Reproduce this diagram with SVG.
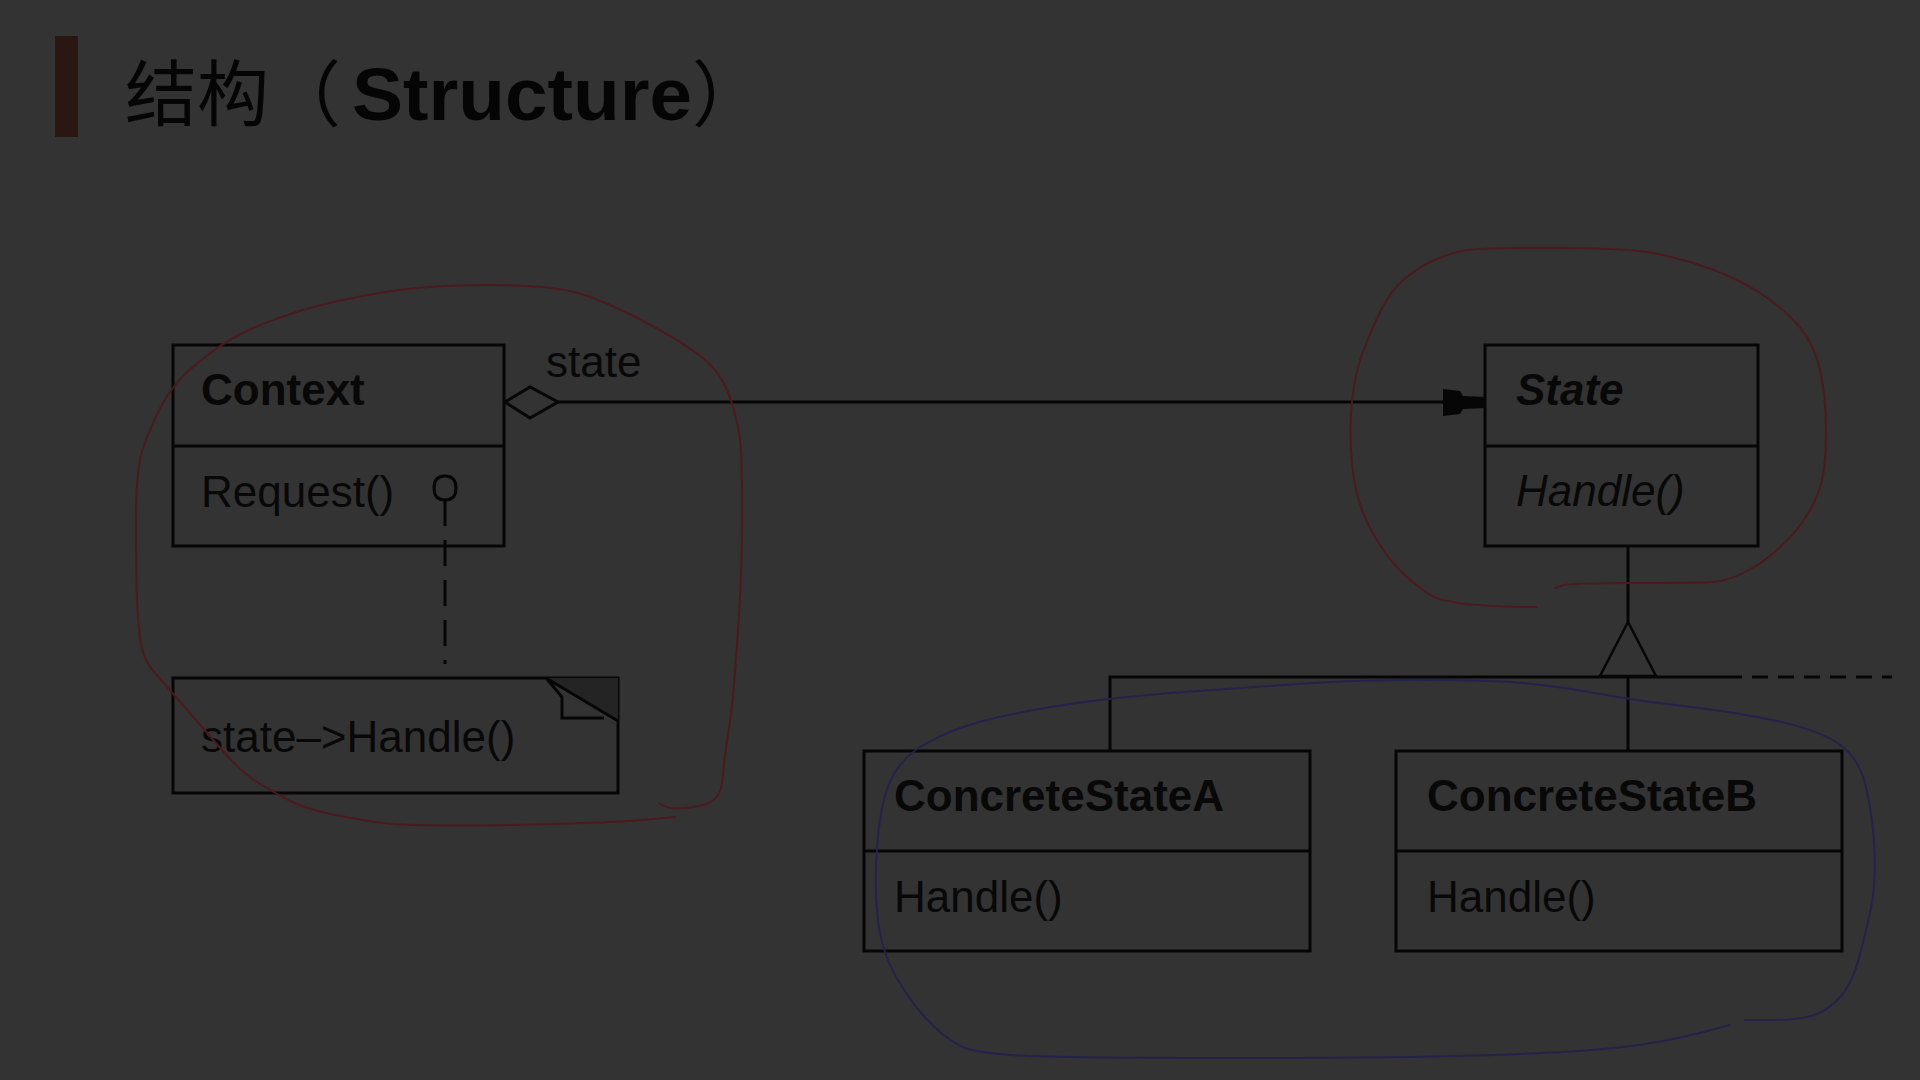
<svg xmlns="http://www.w3.org/2000/svg" width="1920" height="1080" viewBox="0 0 1920 1080">
<style>
.box{fill:none;stroke:#060606;stroke-width:3}
.ln{fill:none;stroke:#060606;stroke-width:3}
.t{font-family:"Liberation Sans",Arial,sans-serif;font-size:44px;fill:#080808}
.b{font-weight:bold}
.i{font-style:italic}
.red{fill:none;stroke:#4a1a1e;stroke-width:2;stroke-linecap:round;stroke-linejoin:round}
.blue{fill:none;stroke:#24224a;stroke-width:2;stroke-linecap:round;stroke-linejoin:round}
</style>
<rect width="1920" height="1080" fill="#333333"/>
<g id="title">
<rect x="55" y="36" width="23" height="101" fill="#2a1712"/>
<text y="120" font-family="'Liberation Sans','Noto Sans CJK SC',sans-serif" font-size="72" fill="#050505"><tspan x="125" font-family="'Noto Sans CJK SC',sans-serif">结构（</tspan><tspan x="352" font-weight="bold" font-size="75" textLength="340" lengthAdjust="spacingAndGlyphs">Structure</tspan><tspan x="692" font-family="'Noto Sans CJK SC',sans-serif">）</tspan></text>
</g>
<g id="connectors">
<path class="ln" d="M558,402 H1446"/>
<polygon points="505,402 530,387 558,402 530,418" fill="none" stroke="#060606" stroke-width="3"/>
<polygon points="1443,389 1460,391 1463,396 1485,397 1485,408 1463,409 1460,414 1443,416" fill="#060606"/>
<text class="t" x="546" y="377">state</text>
<path class="ln" d="M445,500 V664" stroke-dasharray="26 14"/>
<path class="ln" d="M1628,546 V622"/>
<polygon points="1628,622 1600,676 1656,676" fill="none" stroke="#060606" stroke-width="2.5"/>
<path class="ln" d="M1110,751 V677 H1742 M1628,677 V751"/>
<path class="ln" d="M1752,677 H1892" stroke-dasharray="16 10"/>
</g>
<g id="context">
<rect class="box" x="173" y="345" width="331" height="201"/>
<path class="ln" d="M173,446 H504"/>
<text class="t b" x="201" y="405">Context</text>
<text class="t" x="201" y="507">Request()</text>
<path d="M445,476 C453,476 456,481 456,488 C456,496 452,500 445,500 C438,500 434,496 434,488 C434,481 437,476 445,476 Z" fill="none" stroke="#060606" stroke-width="3"/>
</g>
<g id="note">
<rect class="box" x="173" y="678" width="445" height="115"/>
<polygon points="546,678 618,678 618,721" fill="#242424"/>
<path d="M546,678 L618,721 M547,679 L562,697 V718 H604" fill="none" stroke="#060606" stroke-width="3"/>
<text class="t" x="201" y="752">state–&gt;Handle()</text>
</g>
<g id="state">
<rect class="box" x="1485" y="345" width="273" height="201"/>
<path class="ln" d="M1485,446 H1758"/>
<text class="t b i" x="1516" y="405">State</text>
<text class="t i" x="1516" y="506">Handle()</text>
</g>
<g id="concreteStateA">
<rect class="box" x="864" y="751" width="446" height="200"/>
<path class="ln" d="M864,851 H1310"/>
<text class="t b" x="894" y="811">ConcreteStateA</text>
<text class="t" x="894" y="912">Handle()</text>
</g>
<g id="concreteStateB">
<rect class="box" x="1396" y="751" width="446" height="200"/>
<path class="ln" d="M1396,851 H1842"/>
<text class="t b" x="1427" y="811">ConcreteStateB</text>
<text class="t" x="1427" y="912">Handle()</text>
</g>
<g id="annotations">
<path class="red" d="M659,803 Q667,809 679,808.5 Q691,808 701.5,805.5 Q712,803 717,796.5 Q722,790 723,775 Q724,760 728,735 Q732,710 734,685 Q736,660 739,615 Q742,570 742,520 Q742,470 741,450 Q740,430 732,403.5 Q724,377 707.5,362 Q691,347 650.5,325 Q610,303 581.5,294 Q553,285 487.5,285 Q422,285 373,294 Q324,303 293.5,313 Q263,323 242.5,333 Q222,343 197.5,363 Q173,383 161,406.5 Q149,430 142.5,450 Q136,470 136,520 Q136,570 137,598.5 Q138,627 141,643.5 Q144,660 152.5,670 Q161,680 181.5,703.5 Q202,727 222,750 Q242,773 258.5,783 Q275,793 289.5,800.5 Q304,808 324,812.5 Q344,817 375,822 Q406,827 508,825 Q610,823 642.5,820 L675,817"/>
<path class="red" d="M1537,607 Q1450,607 1430.5,595 Q1411,583 1395,565 Q1379,547 1367,522 Q1355,497 1352,463.5 Q1349,430 1352,401.5 Q1355,373 1363,351.5 Q1371,330 1381,310 Q1391,290 1405,278.5 Q1419,267 1434.5,260 Q1450,253 1464,250.5 Q1478,248 1551,248 Q1624,248 1650,252.5 Q1676,257 1705.5,267 Q1735,277 1758.5,292 Q1782,307 1798,325 Q1814,343 1820,370 Q1826,397 1826,430 Q1826,463 1822,480 Q1818,497 1808,513.5 Q1798,530 1782.5,545 Q1767,560 1749,570 Q1731,580 1717,581.5 Q1703,583 1636,583 Q1569,583 1562,585.5 L1555,588"/>
<path class="blue" d="M1730,1025 Q1666,1043 1614.5,1048 Q1563,1053 1477,1055.5 Q1391,1058 1253,1058 Q1115,1058 1046.5,1056.5 Q978,1055 960.5,1046 Q943,1037 926,1018.5 Q909,1000 895,975 Q881,950 877.5,916.5 Q874,883 877.5,841.5 Q881,800 891.5,778.5 Q902,757 926,743.5 Q950,730 981,721.5 Q1012,713 1063.5,705 Q1115,697 1184,692 Q1253,687 1305,683.5 Q1357,680 1425.5,680 Q1494,680 1528.5,683.5 Q1563,687 1597.5,693.5 Q1632,700 1683.5,706 Q1735,712 1776.5,721 Q1818,730 1838.5,743.5 Q1859,757 1866,787 Q1873,817 1874.5,850 Q1876,883 1871,908 Q1866,933 1859,958 Q1852,983 1842,995 Q1832,1007 1818,1013.5 Q1804,1020 1774.5,1020 L1745,1020"/>
</g>
</svg>
